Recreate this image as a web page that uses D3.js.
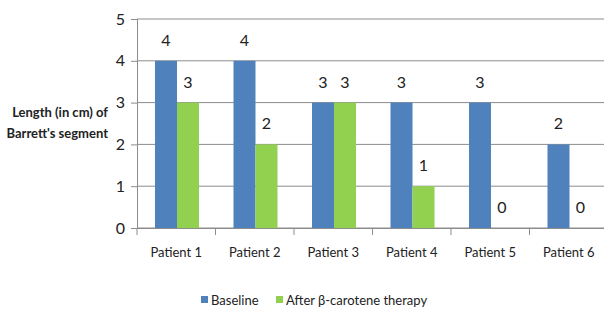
<!DOCTYPE html>
<html>
<head>
<meta charset="utf-8">
<script src="https://d3js.org/d3.v7.min.js"></script>
<style>
body { margin: 0; background: #fff; }
text { font-family: Lato, "Noto Sans", sans-serif; fill: #222; }
</style>
</head>
<body>
<div id="chart"></div>
<script>
var patients = ["Patient 1", "Patient 2", "Patient 3", "Patient 4", "Patient 5", "Patient 6"];
var seriesNames = ["Baseline", "After \u03b2-carotene therapy"];
var baseline = [4, 4, 3, 3, 3, 2];
var after = [3, 2, 3, 1, 0, 0];
var yTicks = [0, 1, 2, 3, 4, 5];
var colors = ["#4f81bd", "#92d050"];

var width = 604, height = 313;
var plotLeft = 137, plotRight = 608, plotTop = 19, plotBottom = 228;

var svg = d3.select("#chart").append("svg")
    .attr("width", width).attr("height", height);

var x = d3.scaleBand().domain(patients).range([plotLeft, plotRight]);
var xs = d3.scaleBand().domain([0, 1]).range([18, 62]);
var y = d3.scaleLinear().domain([0, 5]).range([plotBottom, plotTop]);

// gridlines
svg.append("g").selectAll("line")
    .data(yTicks)
    .join("line")
    .attr("x1", plotLeft).attr("x2", plotRight)
    .attr("y1", d => y(d)).attr("y2", d => y(d))
    .attr("stroke", "#8c8c8c").attr("stroke-width", 1);

// y axis
var yAxis = svg.append("g")
    .attr("transform", `translate(${plotLeft},0)`)
    .call(d3.axisLeft(y).tickValues(yTicks).tickSize(6).tickPadding(6).tickFormat(d3.format("d")));
yAxis.selectAll("line, path").attr("stroke", "#8c8c8c");
yAxis.selectAll("text").style("font-size", "16px").attr("fill", "#222");

// x axis
var xAxis = svg.append("g")
    .attr("transform", `translate(0,${plotBottom})`)
    .call(d3.axisBottom(x).tickSize(0).tickPadding(20));
xAxis.select("path").attr("stroke", "#8c8c8c");
xAxis.selectAll("text").style("font-size", "13px").attr("fill", "#222");
xAxis.selectAll(".sep")
    .data(patients)
    .join("line")
    .attr("class", "sep")
    .attr("x1", d => x(d)).attr("x2", d => x(d))
    .attr("y1", 0).attr("y2", 7)
    .attr("stroke", "#8c8c8c");

var series = [baseline, after];
var groups = svg.append("g").selectAll("g")
    .data(patients)
    .join("g")
    .attr("transform", d => `translate(${x(d)},0)`);

groups.selectAll("rect")
    .data((d, i) => series.map((s, k) => ({k: k, v: s[i]})))
    .join("rect")
    .attr("x", d => xs(d.k))
    .attr("width", xs.bandwidth())
    .attr("y", d => y(d.v))
    .attr("height", d => plotBottom - y(d.v))
    .attr("fill", d => colors[d.k]);

groups.selectAll("text.val")
    .data((d, i) => series.map((s, k) => ({k: k, v: s[i]})))
    .join("text")
    .attr("class", "val")
    .attr("x", d => xs(d.k) + xs.bandwidth() / 2)
    .attr("y", d => y(d.v) - 15)
    .attr("text-anchor", "middle")
    .style("font-size", "16px")
    .text(d => d.v);

// y title
var yt = svg.append("text")
    .attr("text-anchor", "end")
    .style("font-size", "13px")
    .style("font-weight", "bold");
yt.append("tspan").attr("x", 108).attr("y", 117).text("Length (in cm) of");
yt.append("tspan").attr("x", 108).attr("y", 138).text("Barrett's segment");

// legend
var legendX = [201, 276];
var legend = svg.append("g").selectAll("g")
    .data(seriesNames)
    .join("g")
    .attr("transform", (d, i) => `translate(${legendX[i]},300)`);
legend.append("rect")
    .attr("x", 0).attr("y", -4).attr("width", 7).attr("height", 7)
    .attr("fill", (d, i) => colors[i]);
legend.append("text")
    .attr("x", 10).attr("y", 5)
    .style("font-size", "13px")
    .text(d => d);
</script>
</body>
</html>
